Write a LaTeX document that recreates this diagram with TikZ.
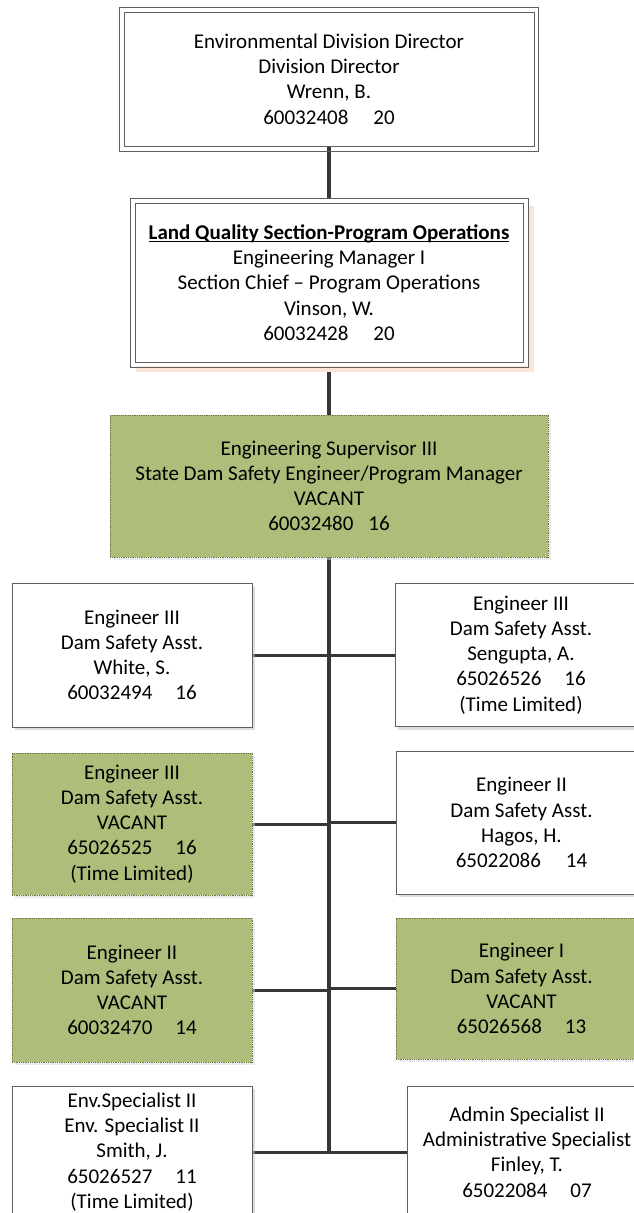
\documentclass[tikz,border=0pt]{standalone}
\usepackage{fontspec}
\setmainfont{Carlito}
\usetikzlibrary{shadows}
\definecolor{vgreen}{RGB}{174,189,122}
\definecolor{vgreenb}{RGB}{105,118,66}
\definecolor{boxline}{RGB}{95,95,95}
\definecolor{connc}{RGB}{55,55,55}
\definecolor{peach}{RGB}{251,229,214}
\newsavebox\ulbox
\newcommand\myul[1]{\sbox\ulbox{#1}\rlap{\rule[-2.8pt]{\wd\ulbox}{1.2pt}}\usebox\ulbox}
\pgfdeclarelayer{bg}
\pgfdeclarelayer{back}
\pgfsetlayers{back,bg,main}
\tikzset{
  every node/.style={font=\fontsize{21}{25.2}\selectfont, align=center, inner sep=0pt},
  dirbox/.style={draw=boxline, line width=1pt, fill=white},
  outerframe/.style={draw=boxline, line width=1pt},
  whitebox/.style={draw=boxline, line width=1pt, fill=white,
     drop shadow={shadow xshift=3pt, shadow yshift=-3pt, fill=black!25, opacity=0.5}},
  vacbox/.style={draw=vgreenb, densely dotted, line width=0.8pt, fill=vgreen,
     drop shadow={shadow xshift=3pt, shadow yshift=-3pt, fill=blue!10!black!15, opacity=0.5}},
  conn/.style={draw=connc, line width=3.2pt},
  hconn/.style={draw=connc, line width=3pt},
}
\begin{document}
\begin{tikzpicture}[x=1pt, y=-1pt]
\useasboundingbox (0,0) rectangle (634,1213);
\clip (0,0) rectangle (634,1213);
\begin{pgfonlayer}{back}
\fill[white] (0,0) rectangle (634,1213);
\end{pgfonlayer}

% top levels
\node[dirbox, minimum width=410pt, minimum height=134pt] (top) at (329,79)
  {Environmental Division Director\\Division Director\\Wrenn, B.\\60032408\hspace{25pt}20};
\draw[outerframe] ([xshift=-4pt,yshift=4pt]top.north west) rectangle ([xshift=4pt,yshift=-4.5pt]top.south east);

\fill[peach] (136,206) rectangle (534,372);
\fill[white] (130,198) rectangle (528,366);
\node[dirbox, minimum width=388pt, minimum height=159pt] (mid) at (329,282.5)
  {\myul{\textbf{Land Quality Section-Program Operations}}\\Engineering Manager I\\Section Chief – Program Operations\\Vinson, W.\\60032428\hspace{25pt}20};
\draw[outerframe] ([xshift=-4.5pt,yshift=4.5pt]mid.north west) rectangle ([xshift=4.5pt,yshift=-4.5pt]mid.south east);

\node[vacbox, minimum width=438pt, minimum height=142pt] (sup) at (329,486)
  {Engineering Supervisor III\\State Dam Safety Engineer/Program Manager\\VACANT\\60032480\hspace{15pt}16};

% row 1
\node[whitebox, minimum width=240pt, minimum height=144pt] (r1l) at (132,655)
  {Engineer III\\Dam Safety Asst.\\White, S.\\60032494\hspace{23pt}16};
\node[whitebox, minimum width=252pt, minimum height=143pt] (r1r) at (521,655)
  {Engineer III\\Dam Safety Asst.\\Sengupta, A.\\65026526\hspace{23pt}16\\(Time Limited)};
% row 2
\node[vacbox, minimum width=240pt, minimum height=142pt] (r2l) at (132,824)
  {Engineer III\\Dam Safety Asst.\\VACANT\\65026525\hspace{23pt}16\\(Time Limited)};
\node[whitebox, minimum width=251pt, minimum height=143pt] (r2r) at (521.5,822.5)
  {Engineer II\\Dam Safety Asst.\\Hagos, H.\\65022086\hspace{25pt}14};
% row 3
\node[vacbox, minimum width=240pt, minimum height=144pt] (r3l) at (132,990)
  {Engineer II\\Dam Safety Asst.\\VACANT\\60032470\hspace{23pt}14};
\node[vacbox, minimum width=251pt, minimum height=141pt] (r3r) at (521.5,988.5)
  {Engineer I\\Dam Safety Asst.\\VACANT\\65026568\hspace{23pt}13};
% row 4
\node[whitebox, minimum width=240pt, minimum height=132pt] (r4l) at (132,1152)
  {Env.Specialist II\\Env. Specialist II\\Smith, J.\\65026527\hspace{23pt}11\\(Time Limited)};
\node[whitebox, minimum width=240pt, minimum height=131pt] (r4r) at (527,1152)
  {Admin Specialist II\\Administrative Specialist\\Finley, T.\\65022084\hspace{23pt}07};

\coordinate (j1) at (329,655);
\coordinate (j2) at (329,823);
\coordinate (j3) at (329,989);
\coordinate (j4) at (329,1152);

\begin{pgfonlayer}{bg}
  \draw[conn] (top.south) -- (mid.north);
  \draw[conn] (mid.south) -- (sup.north);
  \draw[conn, line cap=rect] (sup.south) -- (j4);
  \draw[hconn] (r1l.east) -- (j1) -- (r1r.west);
  \draw[hconn] (r2l.east) -- (r2l.east -| j2);
  \draw[hconn] (r2r.west -| j2) -- (r2r.west);
  \draw[hconn] (r3l.east) -- (r3l.east -| j3);
  \draw[hconn] (r3r.west -| j3) -- (r3r.west);
  \draw[hconn] (r4l.east) -- (j4) -- (r4r.west);
\end{pgfonlayer}
\end{tikzpicture}
\end{document}
